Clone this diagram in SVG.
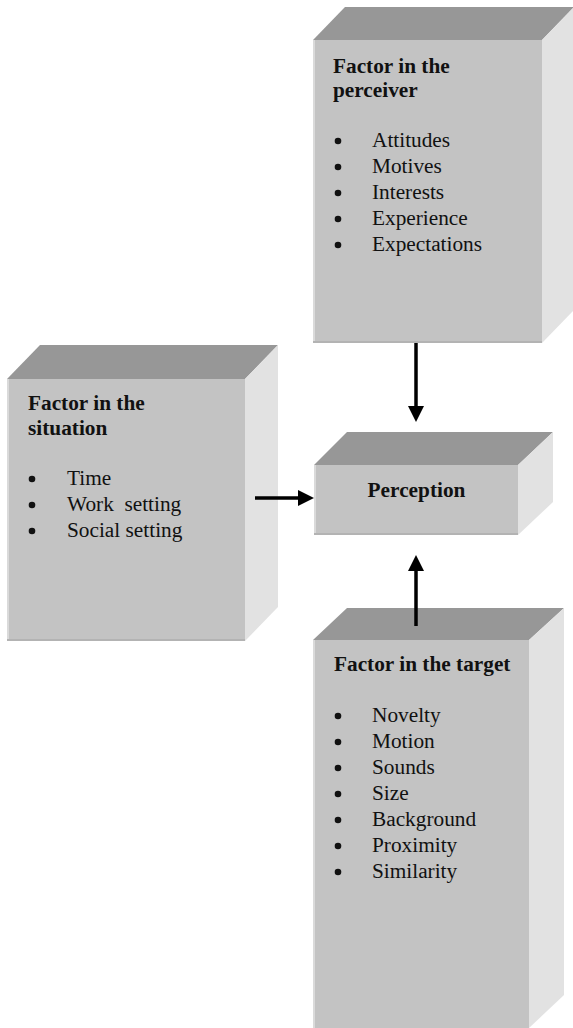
<svg xmlns="http://www.w3.org/2000/svg" width="573" height="1028" viewBox="0 0 573 1028">
<style>
.top{fill:#979797}
.front{fill:#c3c3c3}
.side{fill:#e2e2e2}
.edgeL{stroke:#dadada;stroke-width:2}
.edgeB{stroke:#b3b3b3;stroke-width:2}
.title{font-family:"Liberation Serif","Times New Roman",serif;font-weight:bold;font-size:21.3px;fill:#111}
.item{font-family:"Liberation Serif","Times New Roman",serif;font-size:21.3px;fill:#111;white-space:pre}
.bul{fill:#111}
.conn{stroke:#000;stroke-width:3.5;fill:none}
</style>
<defs>
<marker id="ah" markerUnits="userSpaceOnUse" markerWidth="17" markerHeight="16" refX="1" refY="8" orient="auto">
<path d="M0,0 L16,8 L0,16 z" fill="#000"/>
</marker>
</defs>
<rect width="573" height="1028" fill="#fff"/>

<g id="perceiver">
<polygon class="top" points="313,40 345,7 574,7 542,40"/>
<polygon class="side" points="542,40 574,7 574,310 542,343"/>
<rect class="front" x="313" y="40" width="229" height="303"/>
<line class="edgeL" x1="314" y1="40" x2="314" y2="343"/>
<line class="edgeB" x1="313" y1="342" x2="542" y2="342"/>
<text class="title" x="333" y="73">Factor in the</text>
<text class="title" x="333" y="97">perceiver</text>
<circle class="bul" cx="338" cy="141" r="3.3"/><text class="item" x="372" y="147">Attitudes</text>
<circle class="bul" cx="338" cy="167" r="3.3"/><text class="item" x="372" y="173">Motives</text>
<circle class="bul" cx="338" cy="193" r="3.3"/><text class="item" x="372" y="199">Interests</text>
<circle class="bul" cx="338" cy="219" r="3.3"/><text class="item" x="372" y="225">Experience</text>
<circle class="bul" cx="338" cy="245" r="3.3"/><text class="item" x="372" y="251">Expectations</text>
</g>

<g id="situation">
<polygon class="top" points="7,379 40,345 278,345 245,379"/>
<polygon class="side" points="245,379 278,345 278,607 245,641"/>
<rect class="front" x="7" y="379" width="238" height="262"/>
<line class="edgeL" x1="8" y1="379" x2="8" y2="641"/>
<line class="edgeB" x1="7" y1="640" x2="245" y2="640"/>
<text class="title" x="28" y="410">Factor in the</text>
<text class="title" x="28" y="435">situation</text>
<circle class="bul" cx="32" cy="479" r="3.3"/><text class="item" x="67" y="485">Time</text>
<circle class="bul" cx="32" cy="505" r="3.3"/><text class="item" x="67" y="511">Work  setting</text>
<circle class="bul" cx="32" cy="531" r="3.3"/><text class="item" x="67" y="537">Social setting</text>
</g>

<g id="perception">
<polygon class="top" points="314,465 347,432 553,432 518,465"/>
<polygon class="side" points="518,465 553,432 553,502 518,535"/>
<rect class="front" x="314" y="465" width="204" height="70"/>
<line class="edgeL" x1="315" y1="465" x2="315" y2="535"/>
<line class="edgeB" x1="314" y1="534" x2="518" y2="534"/>
<text class="title" x="416.5" y="497" text-anchor="middle">Perception</text>
</g>

<g id="target">
<polygon class="top" points="313,640 347,608 564,608 529,640"/>
<polygon class="side" points="529,640 564,608 564,995 529,1028"/>
<rect class="front" x="313" y="640" width="216" height="390"/>
<line class="edgeL" x1="314" y1="640" x2="314" y2="1028"/>
<text class="title" x="334" y="671">Factor in the target</text>
<circle class="bul" cx="338" cy="716" r="3.3"/><text class="item" x="372" y="722">Novelty</text>
<circle class="bul" cx="338" cy="742" r="3.3"/><text class="item" x="372" y="748">Motion</text>
<circle class="bul" cx="338" cy="768" r="3.3"/><text class="item" x="372" y="774">Sounds</text>
<circle class="bul" cx="338" cy="794" r="3.3"/><text class="item" x="372" y="800">Size</text>
<circle class="bul" cx="338" cy="820" r="3.3"/><text class="item" x="372" y="826">Background</text>
<circle class="bul" cx="338" cy="846" r="3.3"/><text class="item" x="372" y="852">Proximity</text>
<circle class="bul" cx="338" cy="872" r="3.3"/><text class="item" x="372" y="878">Similarity</text>
</g>

<g id="connectors">
<line class="conn" x1="416" y1="343" x2="416" y2="407" marker-end="url(#ah)"/>
<line class="conn" x1="255" y1="498" x2="299" y2="498" marker-end="url(#ah)"/>
<line class="conn" x1="416" y1="626" x2="416" y2="570" marker-end="url(#ah)"/>
</g>
</svg>
